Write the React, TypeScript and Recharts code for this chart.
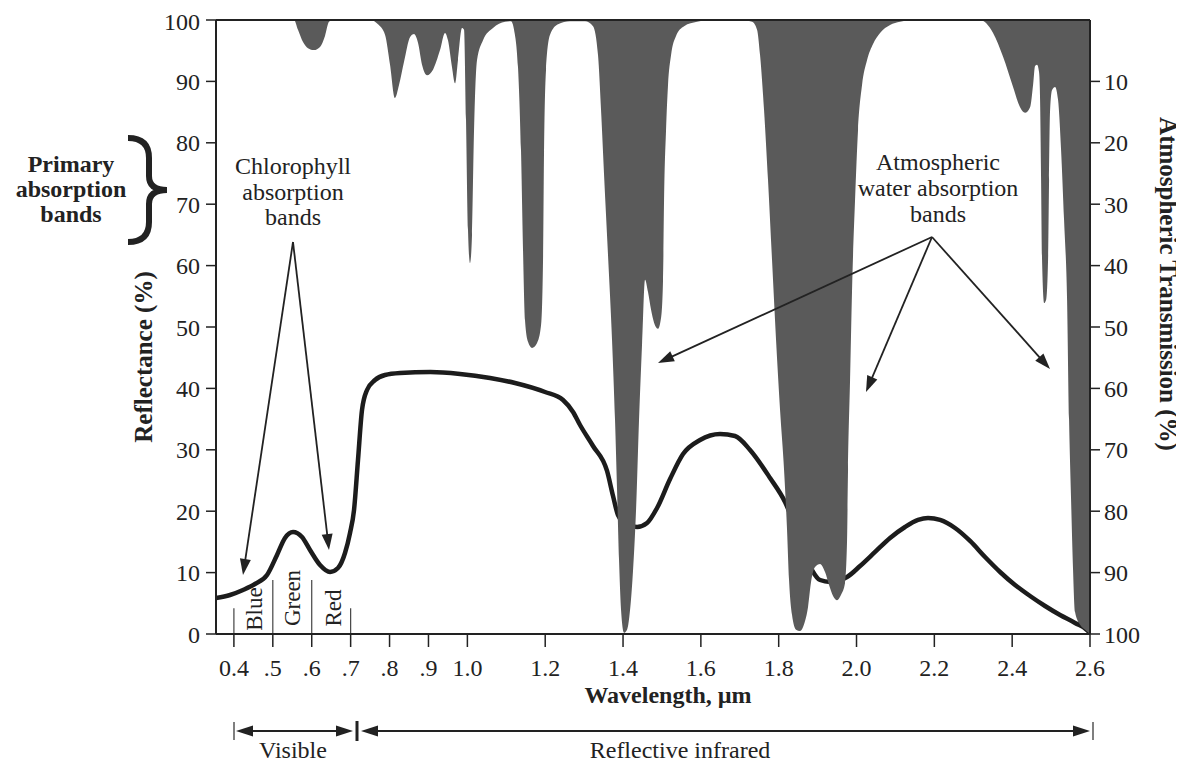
import React from 'react';
import { ComposedChart, Area, XAxis, YAxis, ReferenceLine } from 'recharts';

// ---- data ----
// Atmospheric absorption boundary: wavelength (µm) and reading on the reversed right axis (0 top .. 100 bottom)
const absorptionWavelength = [
  0.354, 0.5545, 0.5647, 0.5776, 0.5904, 0.6059, 0.6213, 0.6341, 0.6444, 0.6547,
  0.7498, 0.7703, 0.7883, 0.8012, 0.814, 0.8243, 0.8372, 0.8526, 0.8629, 0.8731,
  0.8834, 0.8963, 0.9117, 0.9297, 0.9425, 0.9502, 0.9605, 0.9682, 0.9759, 0.9862,
  0.9914, 0.9965, 1.0016, 1.0068, 1.0119, 1.0171, 1.0248, 1.0402, 1.0659, 1.0968,
  1.1121, 1.1199, 1.1301, 1.1378, 1.143, 1.1481, 1.1558, 1.1661, 1.179, 1.1893,
  1.1944, 1.197, 1.2021, 1.2124, 1.2329, 1.2638,
  1.3023, 1.3229, 1.3357, 1.3435, 1.3512, 1.3614, 1.3717, 1.3794, 1.3846, 1.3897,
  1.3949, 1.4026, 1.4103, 1.418, 1.4257, 1.4334, 1.4411, 1.4488, 1.4565, 1.4642,
  1.472, 1.4797, 1.4899, 1.4977, 1.5028, 1.5054, 1.5105, 1.5156, 1.5234, 1.5362,
  1.5568, 1.5902, 1.6287,
  1.7007, 1.7315, 1.7444, 1.7521, 1.7624, 1.7726, 1.7829, 1.7932, 1.8035, 1.8138,
  1.8215, 1.8266, 1.8343, 1.8446, 1.8549, 1.8652, 1.8754, 1.8832, 1.8934, 1.9063,
  1.9191, 1.9294, 1.9397, 1.95, 1.9603, 1.9705, 1.9757, 1.9782, 1.9834, 1.9885,
  1.9962, 2.0039, 2.0142, 2.0271, 2.0425, 2.0605, 2.0862, 2.1119, 2.1504,
  2.3175, 2.3509, 2.3766, 2.4023, 2.4203, 2.4331, 2.446, 2.4537, 2.4588, 2.464,
  2.4691, 2.4717, 2.4743, 2.4768, 2.482, 2.4871, 2.4922, 2.4948, 2.4974, 2.5025,
  2.5102, 2.5179, 2.5257, 2.5334, 2.5411, 2.5462, 2.5514, 2.5565, 2.5616, 2.5745,
  2.5873, 2.6,
];
const absorptionTransmission = [
  0, 0, 1.6, 3.6, 4.6, 4.9, 4.4, 2.6, 0.3, 0,
  0, 0.7, 2.4, 7.3, 12.7, 10.6, 6.8, 2.8, 2.3, 3.7,
  7.3, 9.0, 8.1, 4.9, 2.1, 3.3, 7.7, 10.3, 6.5, 1.3,
  1.6, 16.3, 34.2, 39.6, 35.0, 17.9, 6.5, 3.3, 1.3, 0.3,
  0.2, 1.6, 7.7, 21.2, 37.5, 48.9, 52.4, 53.4, 52.6, 49.7,
  39.1, 21.2, 8.1, 2.4, 0.7, 0.2,
  0.2, 1.0, 5.7, 14.7, 25.2, 38.3, 52.1, 65.1, 76.5, 87.9,
  96.1, 99.8, 99.3, 96.1, 89.6, 79.8, 65.1, 52.9, 42.3, 44.3,
  47.2, 49.3, 50.3, 48.5, 42.3, 29.3, 17.9, 10.6, 5.7, 2.6,
  1.0, 0.3, 0,
  0, 0.3, 1.6, 5.7, 14.7, 26.1, 39.1, 52.1, 63.5, 73.3,
  83.1, 91.2, 96.9, 99.3, 99.5, 98.4, 95.6, 91.5, 89.1, 88.6,
  89.9, 92.0, 93.8, 94.5, 93.6, 91.7, 84.7, 73.3, 58.6, 44.0,
  29.3, 17.9, 10.6, 6.5, 3.9, 2.1, 0.8, 0.3, 0,
  0, 2.1, 6.0, 10.9, 14.2, 15.1, 14.2, 10.6, 7.5, 7.3,
  8.5, 13.0, 26.1, 39.1, 46.1, 45.6, 39.1, 26.1, 14.7, 11.4,
  10.9, 13.0, 21.2, 32.6, 45.6, 65.1, 78.2, 89.6, 96.4, 98.5,
  99.3, 100,
];

// Vegetation reflectance curve: wavelength (µm) and reflectance (%)
const reflectanceWavelength = [
  0.354, 0.39, 0.4234, 0.4542, 0.4851, 0.5108, 0.5313, 0.5519, 0.575, 0.5956,
  0.6213, 0.647, 0.6675, 0.6855, 0.6984, 0.7087, 0.7189, 0.7292, 0.7421, 0.7626,
  0.7883, 0.8269, 0.905, 0.9811, 1.0582, 1.1224, 1.1995, 1.2458, 1.2715, 1.2895,
  1.3229, 1.3589, 1.3743, 1.3871, 1.4103, 1.436, 1.4617, 1.4874, 1.5208, 1.5542,
  1.5979, 1.6493, 1.6878, 1.7264, 1.7778, 1.8163, 1.8549, 1.8857, 1.9063, 1.932,
  1.9757, 2.0091, 2.0477, 2.0862, 2.1247, 2.1581, 2.1838, 2.2147, 2.2532, 2.2918,
  2.3303, 2.3689, 2.4074, 2.446, 2.4845, 2.5231, 2.5616, 2.5951, 2.6,
];
const reflectanceValue = [
  5.86, 6.35, 7.17, 8.14, 9.61, 12.87, 15.64, 16.61, 15.8, 13.68,
  11.24, 10.1, 10.75, 13.19, 16.45, 20.2, 28.34, 36.48, 39.74, 41.37,
  42.18, 42.51, 42.67, 42.35, 41.69, 40.88, 39.41, 38.11, 36.16, 34.04,
  30.62, 26.55, 22.48, 19.38, 17.75, 17.43, 18.08, 20.52, 25.24, 29.32,
  31.6, 32.57, 32.25, 29.97, 25.41, 21.5, 15.31, 10.42, 8.79, 8.47,
  9.28, 11.07, 13.36, 15.64, 17.43, 18.57, 18.89, 18.57, 17.26, 15.15,
  12.54, 10.1, 7.98, 6.19, 4.56, 3.09, 1.79, 0.49, 0,
];

const xTicks = [0.4, 0.5, 0.6, 0.7, 0.8, 0.9, 1.0, 1.2, 1.4, 1.6, 1.8, 2.0, 2.2, 2.4, 2.6];
const xTickLabels = ['0.4', '.5', '.6', '.7', '.8', '.9', '1.0', '1.2', '1.4', '1.6', '1.8', '2.0', '2.2', '2.4', '2.6'];
const yTicks = [0, 10, 20, 30, 40, 50, 60, 70, 80, 90, 100];
const bandEdges = [0.4, 0.5, 0.6, 0.7];
const bandEdgeTops = [4.2, 8.8, 8.8, 4.2];
const bandNames = ['Blue', 'Green', 'Red'];

const absorptionData = absorptionWavelength.map((x, i) => ({ x, t: absorptionTransmission[i] }));
const reflectanceData = reflectanceWavelength.map((x, i) => ({ x, r: reflectanceValue[i] }));

const W = 1176;
const H = 758;
const FONT = '"Liberation Serif", "DejaVu Serif", serif';
const INK = '#222';

function Arrow({ x1, y1, x2, y2, head = 16, half = 5.5, w = 1.8 }: any) {
  const dx = x2 - x1, dy = y2 - y1;
  const L = Math.hypot(dx, dy);
  const ux = dx / L, uy = dy / L;
  const bx = x2 - ux * head, by = y2 - uy * head;
  const px = -uy, py = ux;
  return (
    <g>
      <line x1={x1} y1={y1} x2={bx + ux * 2} y2={by + uy * 2} stroke={INK} strokeWidth={w} />
      <polygon points={`${x2},${y2} ${bx + px * half},${by + py * half} ${bx - px * half},${by - py * half}`} fill={INK} />
    </g>
  );
}

const fmtX = (v: number) => {
  const i = xTicks.findIndex((t) => Math.abs(t - v) < 1e-6);
  return i >= 0 ? xTickLabels[i] : String(v);
};

const tickStyle = { fill: INK, fontSize: 24, fontFamily: FONT };

export default function App() {
  const bandLabelPos = [
    { x: 246, y: 601 },
    { x: 284, y: 590 },
    { x: 325, y: 600 },
  ];
  return (
    <div style={{ position: 'relative', width: W, height: H, background: '#fff' }}>
      <ComposedChart width={W} height={H} margin={{ top: 12, right: 34, bottom: 92, left: 128 }}>
        <XAxis
          type="number"
          dataKey="x"
          domain={[0.354, 2.6]}
          allowDataOverflow
          ticks={xTicks}
          interval={0}
          tickFormatter={fmtX}
          tickSize={13}
          tickMargin={12}
          height={40}
          axisLine={{ stroke: INK, strokeWidth: 2 }}
          tickLine={{ stroke: INK, strokeWidth: 1.5 }}
          tick={tickStyle}
        />
        <YAxis
          yAxisId="left"
          domain={[0, 100]}
          ticks={yTicks}
          width={80}
          tickSize={10}
          tickMargin={6}
          axisLine={{ stroke: INK, strokeWidth: 2 }}
          tickLine={{ stroke: INK, strokeWidth: 1.5 }}
          tick={tickStyle}
        />
        <YAxis
          yAxisId="right"
          orientation="right"
          reversed
          domain={[0, 100]}
          ticks={yTicks}
          width={60}
          tickSize={10}
          tickMargin={4}
          axisLine={{ stroke: INK, strokeWidth: 2 }}
          tickLine={{ stroke: INK, strokeWidth: 1.5 }}
          tick={tickStyle}
        />
        <ReferenceLine yAxisId="left" y={100} stroke={INK} strokeWidth={2} />
        {bandEdges.map((e, i) => (
          <ReferenceLine
            key={'edge' + i}
            yAxisId="left"
            segment={[{ x: e, y: 0 }, { x: e, y: bandEdgeTops[i] }]}
            stroke="#444"
            strokeWidth={1.2}
          />
        ))}
        {/* reflectance curve drawn as an unfilled area so the absorption bands cover it */}
        <Area
          yAxisId="left"
          data={reflectanceData}
          dataKey="r"
          type="monotone"
          stroke="#1c1c1c"
          strokeWidth={4.5}
          fill="none"
          fillOpacity={0}
          dot={false}
          activeDot={false}
          isAnimationActive={false}
        />
        <Area
          yAxisId="right"
          data={absorptionData}
          dataKey="t"
          type="monotone"
          fill="#5a5a5a"
          fillOpacity={1}
          stroke="none"
          dot={false}
          activeDot={false}
          isAnimationActive={false}
        />
      </ComposedChart>
      <svg
        width={W}
        height={H}
        style={{ position: 'absolute', left: 0, top: 0, pointerEvents: 'none' }}
        fontFamily={FONT}
        fill={INK}
      >
        {/* Primary absorption bands with brace */}
        <g fontSize={24} fontWeight="bold" textAnchor="middle">
          <text x={63} y={164}>Primary</text>
          <text x={63} y={189}>absorption</text>
          <text x={63} y={214}>bands</text>
        </g>
        <path
          d="M120,130 Q141,130 141,150 L141,168 Q141,182 159,182 Q141,182 141,196 L141,214 Q141,234 120,234"
          fill="none"
          stroke={INK}
          strokeWidth={6}
        />
        {/* Chlorophyll annotation */}
        <g fontSize={24} textAnchor="middle">
          <text x={285} y={166}>Chlorophyll</text>
          <text x={285} y={192}>absorption</text>
          <text x={285} y={217}>bands</text>
        </g>
        <Arrow x1={285} y1={234} x2={235} y2={567} />
        <Arrow x1={285} y1={234} x2={321} y2={542} />
        {/* Atmospheric annotation */}
        <g fontSize={24} textAnchor="middle">
          <text x={930} y={162}>Atmospheric</text>
          <text x={930} y={188}>water absorption</text>
          <text x={930} y={214}>bands</text>
        </g>
        <Arrow x1={924} y1={229} x2={650} y2={355} />
        <Arrow x1={924} y1={229} x2={858} y2={384} />
        <Arrow x1={924} y1={229} x2={1042} y2={361} />
        {/* Band names */}
        {bandNames.map((n, i) => (
          <text
            key={n}
            x={bandLabelPos[i].x}
            y={bandLabelPos[i].y}
            fontSize={23}
            textAnchor="middle"
            dominantBaseline="central"
            transform={`rotate(-90 ${bandLabelPos[i].x} ${bandLabelPos[i].y})`}
          >
            {n}
          </text>
        ))}
        {/* Axis titles */}
        <text x={660} y={695} fontSize={24} fontWeight="bold" textAnchor="middle">Wavelength, µm</text>
        <text
          x={135}
          y={349}
          fontSize={25}
          fontWeight="bold"
          textAnchor="middle"
          dominantBaseline="central"
          transform="rotate(-90 135 349)"
        >
          Reflectance (%)
        </text>
        <text
          x={1160}
          y={276}
          fontSize={25}
          fontWeight="bold"
          textAnchor="middle"
          dominantBaseline="central"
          transform="rotate(90 1160 276)"
        >
          Atmospheric Transmission (%)
        </text>
        {/* Visible / Reflective infrared ranges */}
        <line x1={226} y1={714} x2={226} y2={732} stroke="#555" strokeWidth={1.5} />
        <Arrow x1={287} y1={723} x2={228} y2={723} w={2} head={17} half={5.5} />
        <Arrow x1={287} y1={723} x2={345} y2={723} w={2} head={17} half={5.5} />
        <line x1={349} y1={713} x2={349} y2={733} stroke={INK} strokeWidth={3} />
        <Arrow x1={720} y1={723} x2={353} y2={723} w={2} head={17} half={5.5} />
        <Arrow x1={720} y1={723} x2={1082} y2={723} w={2} head={17} half={5.5} />
        <line x1={1085} y1={714} x2={1085} y2={732} stroke="#555" strokeWidth={1.5} />
        <text x={285} y={750} fontSize={24} textAnchor="middle">Visible</text>
        <text x={672} y={750} fontSize={24} textAnchor="middle">Reflective infrared</text>
      </svg>
    </div>
  );
}
